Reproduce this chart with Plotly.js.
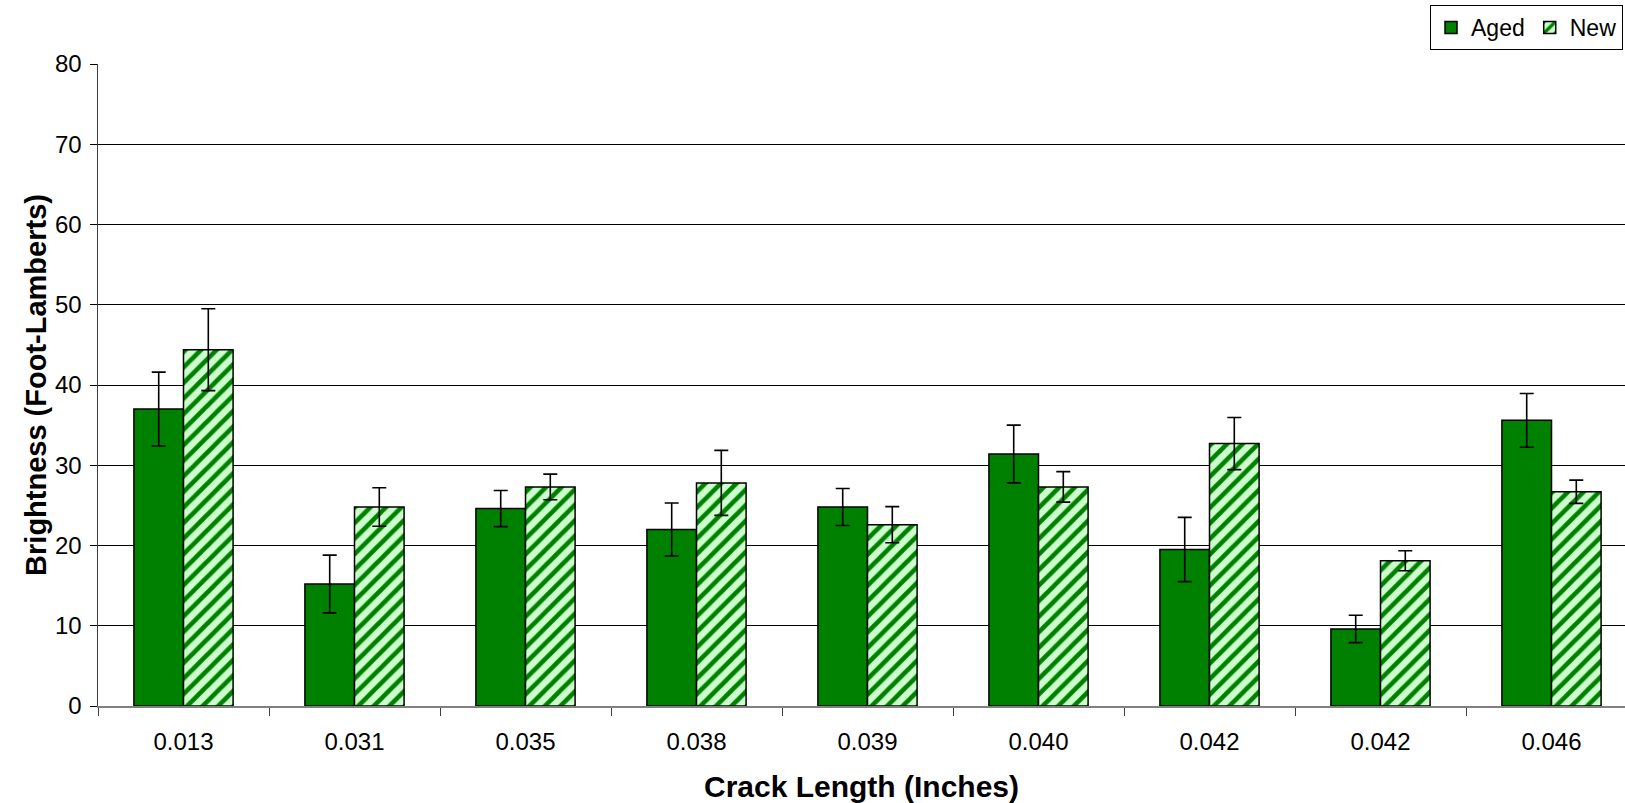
<!DOCTYPE html>
<html>
<head>
<meta charset="utf-8">
<script src="https://cdn.plot.ly/plotly-3.0.1.min.js"></script>
<style>html,body{margin:0;padding:0;background:#fff;}#chart{width:1625px;height:803px;}</style>
</head>
<body>
<div id="chart"></div>
<script>
// Data
const categories = ["0.013", "0.031", "0.035", "0.038", "0.039", "0.040", "0.042", "0.042", "0.046"];
const agedValues = [37.0, 15.2, 24.6, 22.0, 24.8, 31.4, 19.5, 9.6, 35.6];
const agedErrors = [4.6, 3.6, 2.25, 3.3, 2.3, 3.6, 4.0, 1.7, 3.35];
const newValues = [44.4, 24.8, 27.3, 27.8, 22.6, 27.3, 32.7, 18.1, 26.7];
const newErrors = [5.1, 2.4, 1.6, 4.05, 2.25, 1.9, 3.25, 1.25, 1.45];
const yTicks = [0, 10, 20, 30, 40, 50, 60, 70, 80];

const positions = categories.map((c, i) => i);
const FONT = "Arial, 'Liberation Sans', sans-serif";

const traces = [
  {
    type: "bar", name: "Aged", x: positions, y: agedValues,
    marker: { color: "#008000", line: { color: "#000", width: 1.5 } },
    error_y: { type: "data", array: agedErrors, visible: true, color: "#000", thickness: 1.6, width: 7 },
    hoverinfo: "y"
  },
  {
    type: "bar", name: "New", x: positions, y: newValues,
    marker: {
      color: "#ccffcc",
      line: { color: "#000", width: 1.5 },
      pattern: { shape: "/", fgcolor: "#008000", bgcolor: "#ccffcc", size: 11, solidity: 0.42, fillmode: "replace" }
    },
    error_y: { type: "data", array: newErrors, visible: true, color: "#000", thickness: 1.6, width: 7 },
    hoverinfo: "y"
  }
];

const layout = {
  width: 1625, height: 803,
  margin: { l: 98, r: 0, t: 64, b: 97, pad: 0 },
  paper_bgcolor: "#fff", plot_bgcolor: "#fff",
  font: { family: FONT, size: 24, color: "#000" },
  barmode: "group", bargap: 0.42, bargroupgap: 0,
  showlegend: true,
  legend: {
    orientation: "h", x: 0.9987, xanchor: "right", y: 1.092, yanchor: "top",
    bordercolor: "#000", borderwidth: 1, bgcolor: "#fff",
    font: { family: FONT, size: 23, color: "#000" },
    traceorder: "normal", itemwidth: 30
  },
  xaxis: {
    range: [-0.5, -0.5 + (1625 - 98) / 171],
    tickmode: "array", tickvals: positions, ticktext: categories,
    ticks: "", showgrid: false, zeroline: false,
    showline: true, linecolor: "#808080", linewidth: 1.5,
    tickfont: { family: FONT, size: 24, color: "#000" },
    ticklabelstandoff: 14,
    minor: { tickmode: "linear", tick0: -0.5, dtick: 1, ticks: "outside", ticklen: 8, tickwidth: 1, tickcolor: "#404040", showgrid: false },
    title: { text: "<b>Crack Length (Inches)</b>", font: { family: FONT, size: 30, color: "#000" }, standoff: 27 },
    fixedrange: true
  },
  yaxis: {
    range: [0, 80],
    tickmode: "array", tickvals: yTicks,
    ticks: "outside", ticklen: 7, tickwidth: 1, tickcolor: "#000",
    showgrid: true, gridcolor: "#000", gridwidth: 1,
    zeroline: false, showline: true, linecolor: "#404040", linewidth: 1.5,
    tickfont: { family: FONT, size: 24, color: "#000" },
    ticklabelstandoff: 3,
    title: { text: "<b>Brightness (Foot-Lamberts)</b>", font: { family: FONT, size: 29, color: "#000" }, standoff: 0 },
    fixedrange: true
  }
};

Plotly.newPlot("chart", traces, layout, { displayModeBar: false, staticPlot: true });
</script>
</body>
</html>
